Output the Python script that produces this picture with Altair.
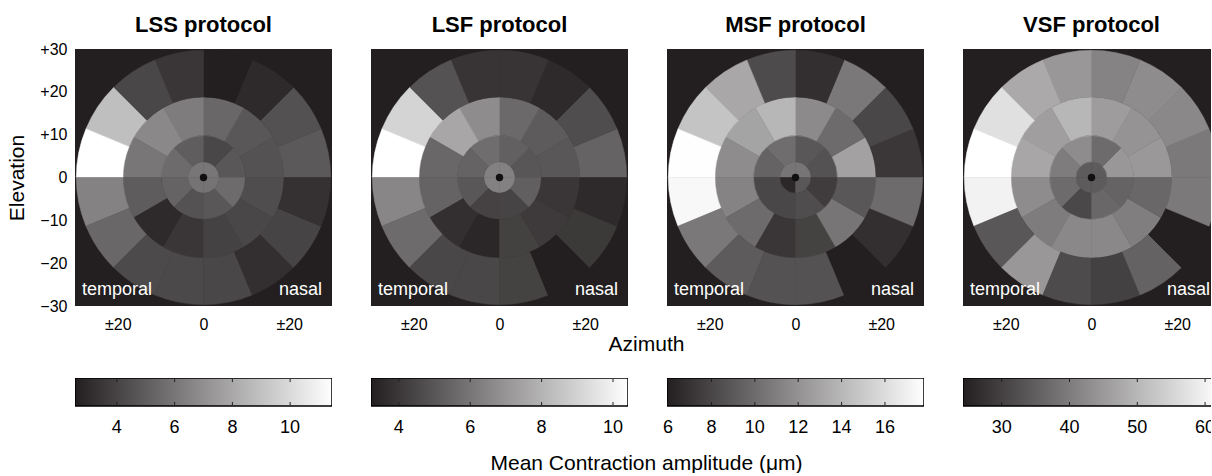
import altair as alt
import pandas as pd

# ---------------- data (values in µm) ----------------
protocols = ["LSS protocol", "LSF protocol", "MSF protocol", "VSF protocol"]

# colour-bar limits and tick labels
cbar_lo = [2.55, 3.22, 5.95, 24.3]
cbar_hi = [11.45, 10.42, 17.8, 62.2]
cbar_ticks = [[4, 6, 8, 10], [4, 6, 8, 10], [6, 8, 10, 12, 14, 16], [30, 40, 50, 60]]

# ring geometry (degrees of visual field) and number of sectors per ring
ring_edges = [0, 3.65, 9.8, 18.8, 29.7]
ring_sectors = [4, 8, 12, 16]

# each ring listed counter-clockwise starting at the nasal horizontal meridian
lss_c = [6.0, 6.0, 5.9, 5.9]
lss_r1 = [4.78, 4.13, 5.02, 5.58, 5.26, 4.57, 4.78, 5.58]
lss_r2 = [4.57, 4.78, 5.42, 6.23, 6.72, 5.99, 4.98, 3.0, 3.48, 3.93, 4.13, 4.37]
lss_r3 = [4.86, 4.53, 3.0, 2.55, 3.48, 4.13, 8.9, 11.45, 6.47, 5.42, 4.25, 4.21, 4.13, 3.2, 4.01, 3.28]

lsf_c = [6.36, 6.36, 6.36, 6.36]
lsf_r1 = [4.99, 5.31, 5.74, 5.41, 5.02, 4.36, 4.40, 5.28]
lsf_r2 = [5.02, 5.15, 5.61, 6.72, 7.57, 5.54, 5.41, 3.74, 3.48, 4.30, 4.10, 3.97]
lsf_r3 = [5.41, 4.69, 3.58, 3.91, 3.91, 4.86, 9.04, 10.42, 6.52, 5.67, 4.50, 4.50, 4.33, 3.22, 4.04, 3.58]

msf_c = [10.5, 10.5, 6.38, 8.9]
msf_r1 = [8.65, 8.91, 10.1, 9.56, 8.05, 8.05, 8.38, 7.51]
msf_r2 = [12.85, 9.99, 11.61, 13.98, 12.96, 11.72, 11.23, 9.99, 7.19, 7.78, 10.48, 8.91]
msf_r3 = [7.24, 8.05, 10.64, 6.81, 8.27, 13.17, 14.68, 17.75, 17.43, 10.64, 9.13, 8.65, 8.65, 5.95, 6.81, 9.99]

vsf_c = [34.5, 34.5, 34.5, 34.5]
vsf_r1 = [44.6, 37.2, 42.7, 40.0, 37.2, 31.2, 36.5, 35.8]
vsf_r2 = [44.8, 43.9, 45.5, 50.0, 45.8, 47.2, 42.7, 40.1, 42.0, 42.0, 40.3, 36.5]
vsf_r3 = [39.5, 42.0, 42.7, 41.2, 44.6, 47.7, 56.9, 62.2, 60.0, 33.8, 44.6, 31.7, 30.0, 35.7, 24.3, 39.5]

panel_values = [
    [lss_c, lss_r1, lss_r2, lss_r3],
    [lsf_c, lsf_r1, lsf_r2, lsf_r3],
    [msf_c, msf_r1, msf_r2, msf_r3],
    [vsf_c, vsf_r1, vsf_r2, vsf_r3],
]

x_tick_vals = [-20, 0, 20]
x_tick_labels = ["±20", "0", "±20"]
y_tick_vals = [30, 20, 10, 0, -10, -20, -30]
y_tick_labels = ["+30", "+20", "+10", "0", "\u221210", "\u221220", "\u221230"]
side_labels = ["temporal", "nasal"]

# ---------------- layout / style ----------------
PW = 257            # plot width in px
PX = PW / 60.0      # px per degree
widths = [PW, PW, PW, 1212 - 964]   # last panel is cut by the page edge
BG = "#231f20"
FONT = "Liberation Sans"
CB_H = 60           # colour-bar view height (bar + its labels)


def expr_map(vals, labels):
    return ("[" + ",".join("'%s'" % l for l in labels) + "][indexof(["
            + ",".join(str(v) for v in vals) + "], datum.value)]")


def panel_df(vals):
    rows = []
    for k, n in enumerate(ring_sectors):
        w = 360.0 / n
        for i in range(n):
            a2 = (i + 1) * w
            t0 = (90.0 - a2) % 360.0
            rows.append({"r0": ring_edges[k], "r1": ring_edges[k + 1],
                         "t0": t0, "t1": t0 + w, "v": vals[k][i]})
    return pd.DataFrame(rows)


def make_panel(i):
    W = widths[i]
    xs = alt.Scale(domain=[-30, -30 + W / PX], nice=False, zero=False)
    ys = alt.Scale(domain=[-30, 30], nice=False, zero=False)
    cs = alt.Scale(domain=[cbar_lo[i], cbar_hi[i]], range=[BG, "#ffffff"],
                   interpolate="rgb", clamp=True)
    ax_common = dict(values=x_tick_vals, labelExpr=expr_map(x_tick_vals, x_tick_labels),
                     ticks=False, domain=False, grid=False, labelFontSize=16,
                     labelPadding=10, labelColor="black")
    if i == 1:
        xaxis = alt.Axis(title="Azimuth", titleFontSize=21, titleFontWeight="normal",
                         titleColor="black", titleX=275, titleY=38,
                         titleBaseline="middle", **ax_common)
    else:
        xaxis = alt.Axis(title=None, **ax_common)
    if i == 0:
        yaxis = alt.Axis(values=y_tick_vals, labelExpr=expr_map(y_tick_vals, y_tick_labels),
                         ticks=False, domain=False, grid=False, labelFontSize=16,
                         labelPadding=8, labelColor="black", title="Elevation",
                         titleFontSize=21, titleFontWeight="normal", titleColor="black",
                         titlePadding=12)
    else:
        yaxis = None

    box = pd.DataFrame({"a": [-30], "b": [30]})
    bg = alt.Chart(box).mark_rect(color=BG, clip=True).encode(
        x=alt.X("a:Q", scale=xs, axis=xaxis), x2="b:Q",
        y=alt.Y("a:Q", scale=ys, axis=yaxis), y2="b:Q")

    arcs = alt.Chart(panel_df(panel_values[i])).mark_arc(strokeWidth=0.5, clip=True).encode(
        x=alt.datum(0), y=alt.datum(0),
        theta=alt.Theta("t0:Q", scale=alt.Scale(domain=[0, 360], range=[0, 6.283185307179586])),
        theta2="t1:Q",
        radius=alt.Radius("r1:Q", scale=alt.Scale(type="linear", domain=[0, 30],
                                                   range=[0, PW / 2], zero=True, nice=False)),
        radius2="r0:Q",
        color=alt.Color("v:Q", scale=cs, legend=None),
        stroke=alt.Stroke("v:Q", scale=cs, legend=None),
    )

    dot = alt.Chart(pd.DataFrame({"c": [0]})).mark_point(
        filled=True, color="#111111", size=55, opacity=1).encode(
        x=alt.datum(0), y=alt.datum(0))

    t_left = alt.Chart(pd.DataFrame({"lab": [side_labels[0]]})).mark_text(
        align="left", baseline="alphabetic", fontSize=18, color="white", clip=True).encode(
        x=alt.datum(-28.37), y=alt.datum(-27.4), text="lab:N")
    t_right = alt.Chart(pd.DataFrame({"lab": [side_labels[1]]})).mark_text(
        align="right", baseline="alphabetic", fontSize=18, color="white", clip=True).encode(
        x=alt.datum(27.67), y=alt.datum(-27.4), text="lab:N")

    dx = (PW - W) / 2.0
    off = -18 if i == 0 else -10   # panel 1's "+30" label raises its bounds
    return alt.layer(bg, arcs, dot, t_left, t_right).properties(
        width=W, height=PW,
        title=alt.TitleParams(protocols[i], fontSize=22, fontWeight="bold", color="black",
                              offset=off, baseline="bottom", anchor="middle", dx=dx),
    )


def make_cbar(i):
    W = widths[i]
    lo, hi = cbar_lo[i], cbar_hi[i]
    vis_hi = lo + (hi - lo) * W / PW
    xs = alt.Scale(domain=[lo, vis_hi], nice=False, zero=False)
    grad = alt.LinearGradient(gradient="linear", x1=0, y1=0, x2=1, y2=0,
                              stops=[alt.GradientStop(color=BG, offset=0),
                                     alt.GradientStop(color="#ffffff", offset=1)])
    if i == 1:
        xaxis = alt.Axis(labels=False, ticks=False, domain=False, grid=False,
                         title="Mean Contraction amplitude (\u03bcm)", titleFontSize=21,
                         titleFontWeight="normal", titleColor="black",
                         titleX=275, titleY=25, titleBaseline="middle")
    else:
        xaxis = None
    lim = pd.DataFrame({"lo": [lo], "hi": [hi]})
    bar = alt.Chart(lim).mark_rect(fill=grad, stroke="black", strokeWidth=1.5, clip=True).encode(
        x=alt.X("lo:Q", scale=xs, axis=xaxis), x2="hi:Q",
        y=alt.value(0), y2=alt.value(28))
    tk = pd.DataFrame({"t": cbar_ticks[i]})
    top = alt.Chart(tk).mark_rule(color=BG, strokeWidth=1).encode(
        x="t:Q", y=alt.value(1), y2=alt.value(4))
    bot = alt.Chart(tk).mark_rule(color=BG, strokeWidth=1).encode(
        x="t:Q", y=alt.value(24), y2=alt.value(27))
    labs = alt.Chart(tk).mark_text(fontSize=18, baseline="middle", color="black",
                                   clip=(i == 3)).encode(
        x="t:Q", y=alt.value(50), text="t:Q")
    return alt.layer(bar, top, bot, labs).properties(width=W, height=CB_H)


views = [make_panel(i) for i in range(4)] + [make_cbar(i) for i in range(4)]
chart = alt.concat(*views, columns=4, spacing={"row": 72, "column": 39},
                   bounds="flush").resolve_scale(
    color="independent", stroke="independent"
).properties(
    padding={"left": 6, "top": 14, "right": 0, "bottom": 0},
    background="white",
).configure(font=FONT).configure_view(stroke=None)

chart.save("out.html", embed_options={"renderer": "svg", "actions": False})
